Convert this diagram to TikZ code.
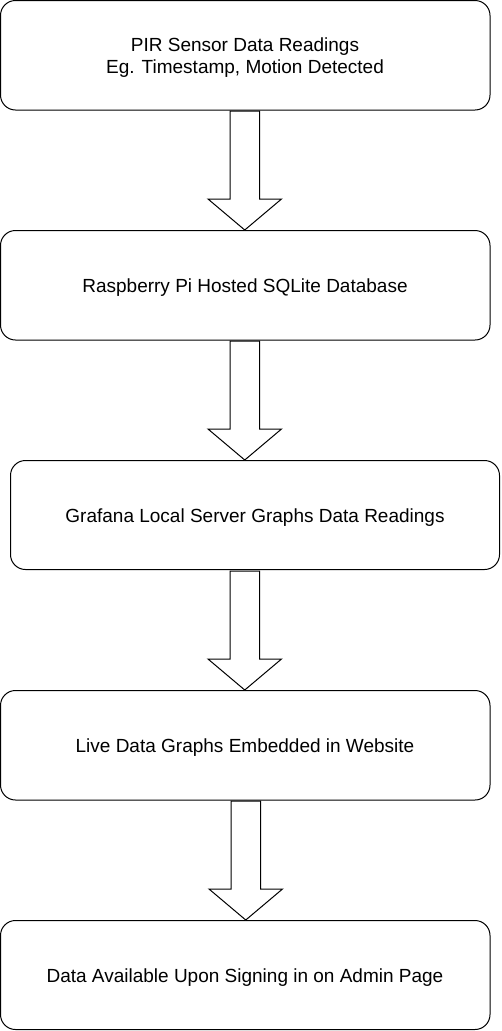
\documentclass[tikz,border=0pt]{standalone}
\usepackage{fontspec}
\setmainfont{Liberation Sans}
\begin{document}
\begin{tikzpicture}[x=1pt,y=-1pt,
  stepbox/.style={draw=black,line width=1pt,rounded corners=15pt,fill=white},
  blockarrow/.style={draw=black,line width=1pt,fill=white,line join=miter},
  lbl/.style={font=\fontsize{19}{22}\selectfont,align=center,text=black}]
\useasboundingbox (0,0) rectangle (501,1031);
\fill[white] (0,0) rectangle (501,1031);
% boxes
\draw[stepbox] (0.5,0.5) rectangle (490,110);
\node[lbl] (t1) at (245,58) {PIR Sensor Data Readings\\Eg. Timestamp, Motion Detected};
\draw[stepbox] (0.5,230.5) rectangle (490,340);
\node[lbl] (t2) at (245,288) {Raspberry Pi Hosted SQLite Database};
\draw[stepbox] (10.5,460.5) rectangle (499.5,569.5);
\node[lbl] (t3) at (255,518) {Grafana Local Server Graphs Data Readings};
\draw[stepbox] (0.5,690.5) rectangle (490,800);
\node[lbl] (t4) at (245,748) {Live Data Graphs Embedded in Website};
\draw[stepbox] (0.5,920.5) rectangle (490,1029.5);
\node[lbl] (t5) at (245,978) {Data Available Upon Signing in on Admin Page};
% block arrows
\foreach \y/\dx in {110/0,340/0,570/0,800/1}{
  \draw[blockarrow] (230+\dx,\y+1) -- (259.5+\dx,\y+1) -- (259.5+\dx,\y+89) -- (281.5+\dx,\y+89)
     -- (244.75+\dx,\y+120) -- (208+\dx,\y+89) -- (230+\dx,\y+89) -- cycle;
}
\end{tikzpicture}
\end{document}
